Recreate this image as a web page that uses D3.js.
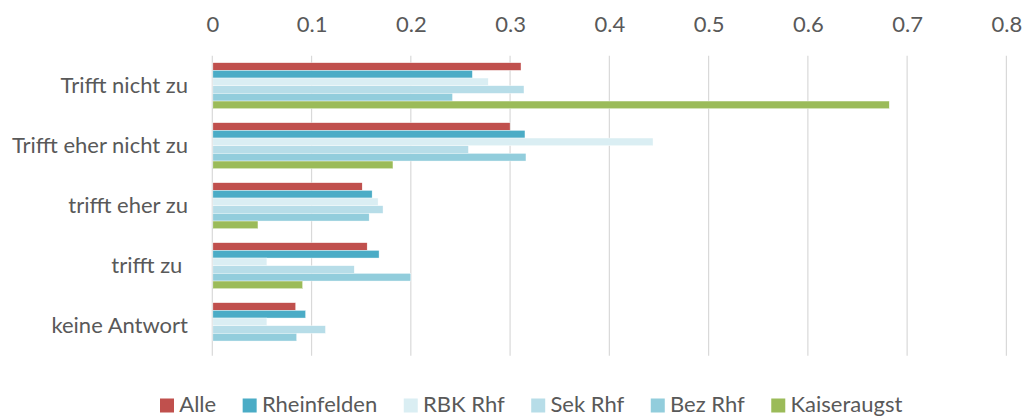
<!DOCTYPE html>
<html><head><meta charset="utf-8">
<script src="https://cdn.jsdelivr.net/npm/d3@7"></script>
<style>body{margin:0;background:#fff}svg{display:block}text{white-space:pre}</style>
</head><body>
<script>
const categories = ["Trifft nicht zu","Trifft eher nicht zu","trifft eher zu","trifft zu ","keine Antwort"];
const seriesNames = ["Alle","Rheinfelden","RBK Rhf","Sek Rhf","Bez Rhf","Kaiseraugst"];
const colors = ["#C0504D","#4BACC6","#DAEEF3","#B7DDE8","#92CDDC","#9BBB59"];
const alle        = [0.311,0.300,0.151,0.156,0.084];
const rheinfelden = [0.262,0.315,0.161,0.168,0.094];
const rbk         = [0.278,0.444,0.167,0.055,0.055];
const sek         = [0.314,0.258,0.172,0.143,0.114];
const bez         = [0.242,0.316,0.158,0.200,0.085];
const kaiseraugst = [0.682,0.182,0.046,0.091,0.000];
const ticks = [0,0.1,0.2,0.3,0.4,0.5,0.6,0.7,0.8];
const seriesValues = [alle,rheinfelden,rbk,sek,bez,kaiseraugst];

const W=1025,H=418;
const font = "Lato, 'Open Sans', sans-serif";
const fs = 22;
const txt = "#595959";
const svg = d3.select("body").append("svg").attr("width",W).attr("height",H);
const x = d3.scaleLinear().domain([0,0.8]).range([212.3,1006.4]);
const y = d3.scaleBand().domain(categories).range([55.7,355.7]).paddingInner(0.2333).paddingOuter(0.1167);
const ys = d3.scaleBand().domain(seriesNames).range([0,y.bandwidth()]);

// gridlines
svg.append("g").selectAll("line").data(ticks).join("line")
  .attr("x1",d=>x(d)).attr("x2",d=>x(d)).attr("y1",55.7).attr("y2",355.7)
  .attr("stroke","#D9D9D9").attr("stroke-width",1.2);

// top axis
const ax = svg.append("g").attr("transform","translate(0,31.7)")
  .call(d3.axisTop(x).tickValues(ticks).tickSize(0).tickPadding(0).tickFormat(d3.format("")));
ax.select(".domain").remove();
ax.selectAll("text").attr("font-family",font).attr("font-size",fs).attr("fill",txt).attr("dy",0);

// bars
const g = svg.append("g");
categories.forEach((c,i)=>{
  seriesNames.forEach((s,j)=>{
    const v = seriesValues[j][i];
    if(v<=0) return;
    g.append("rect").attr("x",x(0)+0.6).attr("y",y(c)+ys(s))
      .attr("width",x(v)-x(0)-0.6).attr("height",ys.bandwidth())
      .attr("fill",colors[j]).attr("stroke","#fff").attr("stroke-width",0.4);
  });
});

// category labels
const ay = svg.append("g").attr("transform","translate(188,0)")
  .call(d3.axisLeft(y).tickSize(0).tickPadding(0));
ay.select(".domain").remove();
ay.selectAll("text").attr("font-family",font).attr("font-size",fs).attr("fill",txt).attr("dy","0.32em");

// legend
const leg = svg.append("g");
let lx = 160;
seriesNames.forEach((s,j)=>{
  leg.append("rect").attr("x",lx).attr("y",398.5).attr("width",14).attr("height",14).attr("fill",colors[j]);
  const t = leg.append("text").attr("x",lx+19.3).attr("y",412).text(s)
    .attr("font-family",font).attr("font-size",fs).attr("fill",txt);
  lx += 19.3 + t.node().getComputedTextLength() + 26.5;
});
</script>
</body></html>
